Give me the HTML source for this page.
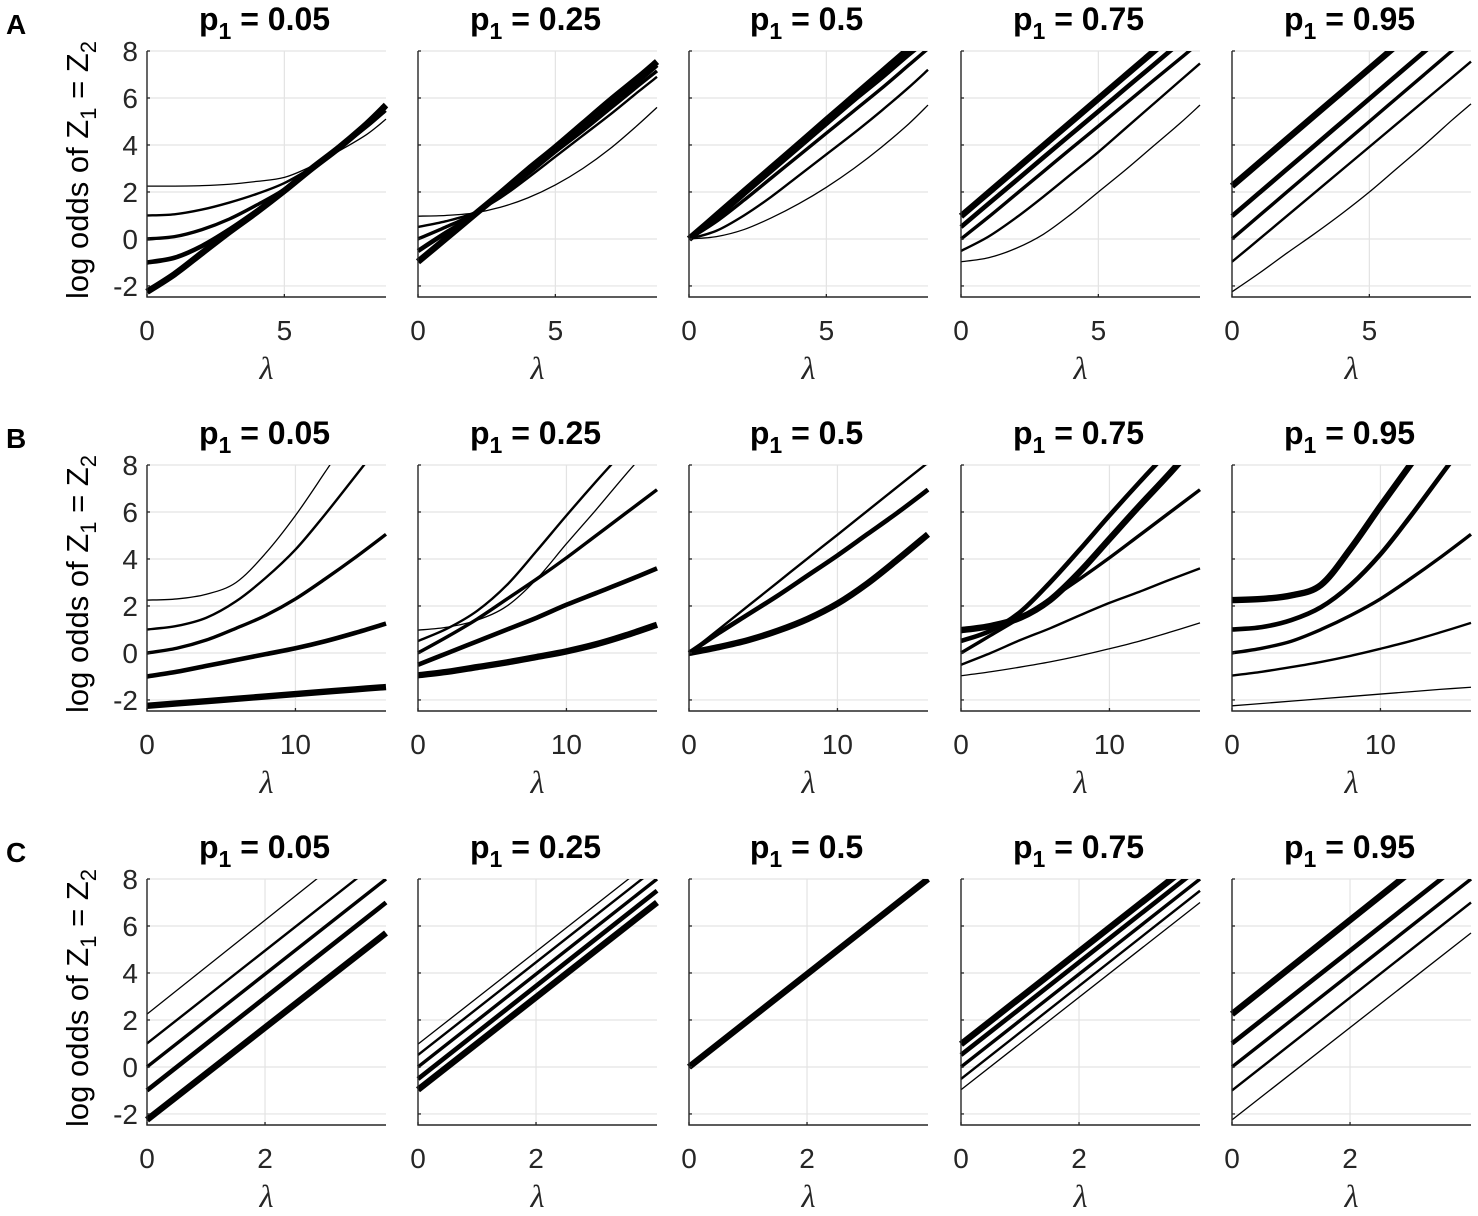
<!DOCTYPE html>
<html><head><meta charset="utf-8"><style>
html,body{margin:0;padding:0;background:#fff;}
svg{display:block;}
</style></head><body>
<svg id="fig" width="1478" height="1216" viewBox="0 0 1478 1216" xmlns="http://www.w3.org/2000/svg"></svg>
<script>
// ---- data ----
const p1Labels = ['0.05','0.25','0.5','0.75','0.95'];
const p2Values = [0.05,0.25,0.5,0.75,0.95];
const rowLetters = ['A','B','C'];
const yTicks = [-2,0,2,4,6,8];
const xTicksA = [0,5];
const xTicksB = [0,10];
const xTicksC = [0,2];
const lambdaA = [0,1,2,3,4,5,6,7,8,8.7];
const lambdaB = [0,2,4,6,8,10,12,14,16.1];
const lambdaC = [0,4.05];

// Row A (curves ordered by p2 = 0.05 ... 0.95)
const rowA_p1_005 = [
  [2.25,2.25,2.27,2.33,2.45,2.62,3.1,3.75,4.45,5.1],
  [1,1.05,1.25,1.55,1.92,2.38,3.05,3.85,4.75,5.45],
  [0,0.1,0.4,0.85,1.45,2.12,3.0,3.9,4.85,5.6],
  [-1,-0.8,-0.3,0.4,1.2,2.05,3.0,3.9,4.9,5.65],
  [-2.25,-1.5,-0.6,0.3,1.15,2.05,3.0,3.9,4.9,5.7]
];
const rowA_p1_025 = [
  [0.97,1.0,1.1,1.35,1.75,2.3,3.0,3.85,4.85,5.6],
  [0.51,0.75,1.1,1.75,2.6,3.5,4.4,5.3,6.25,6.9],
  [0,0.5,1.05,1.85,2.75,3.7,4.6,5.55,6.5,7.15],
  [-0.51,0.25,0.97,1.9,2.85,3.8,4.8,5.75,6.7,7.4],
  [-0.97,0.0,0.98,1.95,2.95,3.9,4.9,5.9,6.85,7.55]
];
const rowA_p1_05 = [
  [0,0.1,0.4,0.9,1.5,2.2,3.0,3.9,4.9,5.7],
  [0,0.35,1.0,1.8,2.7,3.6,4.5,5.45,6.45,7.2],
  [0,0.75,1.65,2.6,3.55,4.5,5.45,6.4,7.4,8.1],
  [0,0.9,1.9,2.9,3.9,4.9,5.9,6.85,7.85,8.5],
  [0,1.01,2.03,3.04,4.05,5.07,6.08,7.09,8.1,8.8]
];
const rowA_p1_075 = [
  [-0.97,-0.8,-0.4,0.2,1.05,2.0,2.95,3.95,4.95,5.7],
  [-0.51,0.1,0.9,1.8,2.75,3.7,4.72,5.74,6.76,7.47],
  [0,0.93,1.9,2.87,3.84,4.8,5.77,6.74,7.7,8.38],
  [0.51,1.5,2.48,3.47,4.45,5.43,6.42,7.4,8.39,9.08],
  [0.97,1.97,2.97,3.97,4.97,5.97,6.97,7.97,8.97,9.67]
];
const rowA_p1_095 = [
  [-2.25,-1.45,-0.6,0.22,1.08,2.0,3.0,4.0,5.05,5.75],
  [-0.97,0.0,0.98,1.96,2.94,3.92,4.9,5.88,6.86,7.55],
  [0,1,2,3,4,5,6,7,8,8.7],
  [0.97,1.97,2.97,3.97,4.97,5.97,6.97,7.97,8.97,9.67],
  [2.25,3.25,4.25,5.25,6.25,7.25,8.25,9.25,10.25,10.95]
];
// Row B
const rowB_p1_005 = [
  [2.25,2.3,2.5,3.0,4.25,5.85,7.7,9.6,11.7],
  [1.0,1.15,1.5,2.2,3.2,4.4,5.9,7.5,9.2],
  [0,0.2,0.55,1.05,1.6,2.3,3.15,4.05,5.05],
  [-1,-0.8,-0.55,-0.3,-0.05,0.2,0.5,0.85,1.25],
  [-2.25,-2.15,-2.05,-1.95,-1.85,-1.75,-1.65,-1.55,-1.45]
];
const rowB_p1_025 = [
  [0.97,1.1,1.4,2.0,3.15,4.65,6.1,7.6,9.1],
  [0.51,1.05,1.8,2.9,4.35,5.85,7.3,8.7,10.2],
  [0,0.7,1.45,2.3,3.15,4.05,5.0,5.95,6.95],
  [-0.5,0.0,0.5,1.0,1.5,2.05,2.55,3.05,3.6],
  [-0.95,-0.8,-0.6,-0.4,-0.17,0.07,0.37,0.75,1.2]
];
const rowB_p1_05 = [
  [0,1.0,2.01,3.02,4.03,5.03,6.04,7.05,8.1],
  [0,1.0,2.01,3.02,4.03,5.03,6.04,7.05,8.1],
  [0,0.85,1.65,2.45,3.3,4.15,5.05,5.95,6.95],
  [0,0.85,1.65,2.45,3.3,4.15,5.05,5.95,6.95],
  [0,0.25,0.55,0.95,1.45,2.1,2.95,3.95,5.05]
];
const rowB_p1_075 = [
  [-0.97,-0.8,-0.6,-0.38,-0.12,0.18,0.5,0.87,1.28],
  [-0.5,0.0,0.55,1.05,1.6,2.13,2.6,3.1,3.6],
  [0,0.75,1.5,2.3,3.15,4.05,5.0,5.95,6.95],
  [0.51,0.95,1.75,3.0,4.4,5.85,7.25,8.6,10],
  [0.97,1.15,1.5,2.25,3.45,4.85,6.25,7.6,9.1]
];
const rowB_p1_095 = [
  [-2.25,-2.15,-2.05,-1.95,-1.85,-1.75,-1.65,-1.55,-1.46],
  [-0.96,-0.8,-0.6,-0.38,-0.12,0.18,0.5,0.87,1.28],
  [0,0.2,0.5,1.0,1.6,2.3,3.15,4.05,5.05],
  [1.0,1.1,1.4,1.95,2.9,4.2,5.8,7.5,9.3],
  [2.25,2.3,2.45,2.9,4.45,6.25,8.0,9.7,11.5]
];
// Row C
const rowC_p1_005 = [[2.25,10.35],[1.0,9.0],[0,8.0],[-1.0,7.0],[-2.25,5.7]];
const rowC_p1_025 = [[0.97,8.95],[0.51,8.5],[0,8.0],[-0.51,7.5],[-0.97,7.0]];
const rowC_p1_05  = [[0,8],[0,8],[0,8],[0,8],[0,8]];
const rowC_p1_075 = [[-0.97,7.0],[-0.51,7.5],[0,8.0],[0.51,8.5],[0.97,8.95]];
const rowC_p1_095 = [[-2.25,5.7],[-1.0,7.0],[0,8.0],[1.0,9.0],[2.25,10.35]];

const rowsData = [
  {lam: lambdaA, xmax: 8.7, xticks: xTicksA, panels: [rowA_p1_005,rowA_p1_025,rowA_p1_05,rowA_p1_075,rowA_p1_095]},
  {lam: lambdaB, xmax: 16.1, xticks: xTicksB, panels: [rowB_p1_005,rowB_p1_025,rowB_p1_05,rowB_p1_075,rowB_p1_095]},
  {lam: lambdaC, xmax: 4.05, xticks: xTicksC, panels: [rowC_p1_005,rowC_p1_025,rowC_p1_05,rowC_p1_075,rowC_p1_095]}
];

// ---- layout (not data) ----
const NS = 'http://www.w3.org/2000/svg';
const svg = document.getElementById('fig');
const colLeft = [147, 418, 689, 961, 1232];
const axW = 239;
const rowTop = [51, 465, 879];
const axH = 246;
const YMIN = -2.47, YMAX = 8;
const widths = [1.3, 2.4, 3.4, 4.6, 6.4];

function mk(tag, attrs, parent) {
  const e = document.createElementNS(NS, tag);
  for (const k in attrs) e.setAttribute(k, attrs[k]);
  (parent || svg).appendChild(e);
  return e;
}
function smoothPath(pts) {
  if (pts.length === 2) return `M${pts[0][0]},${pts[0][1]}L${pts[1][0]},${pts[1][1]}`;
  let d = `M${pts[0][0].toFixed(2)},${pts[0][1].toFixed(2)}`;
  for (let i = 0; i < pts.length - 1; i++) {
    const p0 = pts[i-1] || pts[i], p1 = pts[i], p2 = pts[i+1], p3 = pts[i+2] || p2;
    const c1x = p1[0] + (p2[0]-p0[0])/6, c1y = p1[1] + (p2[1]-p0[1])/6;
    const c2x = p2[0] - (p3[0]-p1[0])/6, c2y = p2[1] - (p3[1]-p1[1])/6;
    d += `C${c1x.toFixed(2)},${c1y.toFixed(2)} ${c2x.toFixed(2)},${c2y.toFixed(2)} ${p2[0].toFixed(2)},${p2[1].toFixed(2)}`;
  }
  return d;
}

const defs = mk('defs', {});
const FONT = '"Liberation Sans", Arial, sans-serif';

rowsData.forEach((row, r) => {
  const top = rowTop[r];
  const letter = mk('text', {x: 6, y: top - 17, 'font-family': FONT, 'font-size': 28, 'font-weight': 'bold', fill: '#000'});
  
  
  letter.textContent = rowLetters[r];

  // y-axis label
  const cy = top + axH/2 - 4;
  const yl = mk('text', {x: 0, y: 0, transform: `translate(88,${cy}) rotate(-90)`, 'text-anchor': 'middle', 'font-family': FONT, 'font-size': 31, fill: '#000'});
  
  
  yl.innerHTML = 'log odds of Z<tspan dy="8" font-size="22">1</tspan><tspan dy="-8"> = Z</tspan><tspan dy="8" font-size="22">2</tspan>';

  row.panels.forEach((curves, c) => {
    const left = colLeft[c];
    const g = mk('g', {});
    
    
    const xs = v => left + v / row.xmax * axW;
    const ys = v => top + (YMAX - v) / (YMAX - YMIN) * axH;

    // grid
    yTicks.forEach(t => {
      const gl = mk('line', {x1: left, x2: left + axW, y1: ys(t), y2: ys(t), stroke: '#e3e3e3', 'stroke-width': 1.2}, g);
      
      
    });
    row.xticks.forEach(t => {
      if (t === 0) return;
      const gl = mk('line', {x1: xs(t), x2: xs(t), y1: top, y2: top + axH, stroke: '#e3e3e3', 'stroke-width': 1.2}, g);
      
      
    });

    // title
    const title = mk('text', {x: left + axW/2 - 2, y: top - 21, 'text-anchor': 'middle', 'font-family': FONT, 'font-size': 32, 'font-weight': 'bold', fill: '#000'}, g);
    
    
    title.innerHTML = `p<tspan dy="9" font-size="23">1</tspan><tspan dy="-9"> = ${p1Labels[c]}</tspan>`;

    // curves
    const cid = `clip-${r}-${c}`;
    const cp = mk('clipPath', {id: cid}, defs);
    mk('rect', {x: left - 6, y: top, width: axW + 12, height: axH + 8}, cp);
    const cg = mk('g', {'clip-path': `url(#${cid})`}, g);
    curves.forEach((vals, k) => {
      const pts = vals.map((v, i) => [xs(row.lam[i]), ys(v)]);
      const p = mk('path', {d: smoothPath(pts), fill: 'none', stroke: '#000', 'stroke-width': widths[k], 'stroke-linejoin': 'round'}, cg);
      
      
    });

    // axes
    const ax = mk('path', {d: `M${left},${top}V${top+axH}H${left+axW}`, fill: 'none', stroke: '#262626', 'stroke-width': 1.4}, g);
    
    
    yTicks.forEach(t => {
      const tk = mk('line', {x1: left, x2: left + 3, y1: ys(t), y2: ys(t), stroke: '#262626', 'stroke-width': 1.3}, g);
      
      
      if (c === 0) {
        const tl = mk('text', {x: left - 9, y: ys(t) + 10, 'text-anchor': 'end', 'font-family': FONT, 'font-size': 28, fill: '#262626'}, g);
        
        
        tl.textContent = t;
      }
    });
    row.xticks.forEach(t => {
      const tk = mk('line', {x1: xs(t), x2: xs(t), y1: top + axH, y2: top + axH - 3, stroke: '#262626', 'stroke-width': 1.3}, g);
      
      
      const tl = mk('text', {x: xs(t), y: top + axH + 43, 'text-anchor': 'middle', 'font-family': FONT, 'font-size': 28, fill: '#262626'}, g);
      
      
      tl.textContent = t;
    });
    const xl = mk('text', {x: left + axW/2, y: top + axH + 82, 'text-anchor': 'middle', 'font-family': '"Liberation Serif", serif', 'font-size': 32, 'font-style': 'italic', fill: '#262626'}, g);
    
    
    xl.textContent = 'λ';
  });
});
</script>
</body></html>
